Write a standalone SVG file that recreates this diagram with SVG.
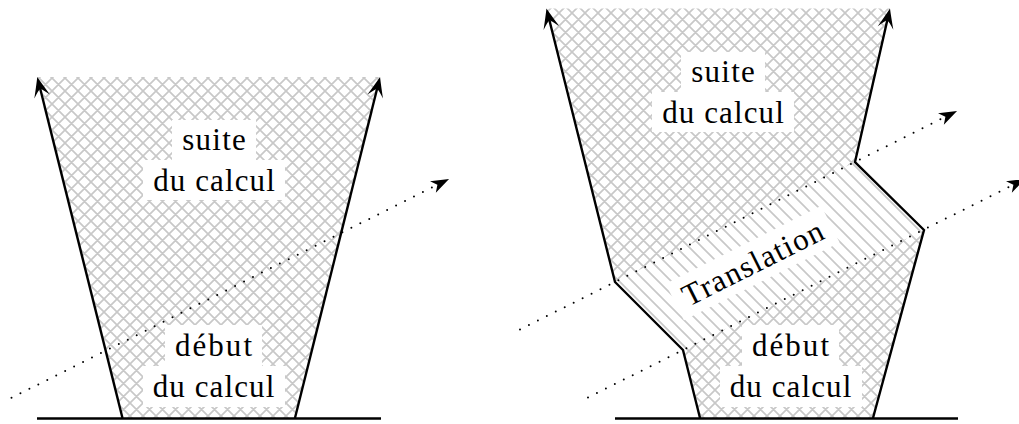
<svg xmlns="http://www.w3.org/2000/svg" width="1019" height="424" viewBox="0 0 1019 424">
<style>
.lbl{font-family:"Liberation Serif","Times New Roman",serif;font-size:31px;fill:#000;text-anchor:middle}
.box{fill:#fff;stroke:none}
.edge{fill:none;stroke:#000;stroke-width:2.4;stroke-linejoin:miter}
.base{fill:none;stroke:#000;stroke-width:2.4}
.dot{fill:none;stroke:#000;stroke-width:2;stroke-linecap:round;stroke-dasharray:0 10}
</style>
<defs>
<pattern id="cross" patternUnits="userSpaceOnUse" width="13" height="13">
<path d="M0,0 L13,13 M-1,12 L1,14 M12,-1 L14,1 M0,13 L13,0 M-1,1 L1,-1 M12,14 L14,12" stroke="#c8c8c8" stroke-width="1.7" fill="none"/>
</pattern>
<pattern id="nw" patternUnits="userSpaceOnUse" width="13" height="13">
<path d="M0,0 L13,13 M-1,12 L1,14 M12,-1 L14,1" stroke="#c8c8c8" stroke-width="1.7" fill="none"/>
</pattern>
<marker id="barb" markerUnits="userSpaceOnUse" orient="auto" overflow="visible" markerWidth="1" markerHeight="1" refX="0" refY="0">
<path d="M8,0 Q0,3 -12,8 Q-5,2 -4,0 Q-5,-2 -12,-8 Q0,-3 8,0 Z" fill="#000"/>
</marker>
<marker id="stealth" markerUnits="userSpaceOnUse" orient="auto" overflow="visible" markerWidth="1" markerHeight="1" refX="0" refY="0">
<path d="M13,0 L-5,-6.5 L0,0 L-5,6.5 Z" fill="#000"/>
</marker>
</defs>

<g id="hatch">
<polygon points="37.3,77 380,77 295,418 122.5,418" fill="url(#cross)"/>
<polygon points="546.5,8.5 890,8.5 855,162 924,230 873,418 700,418 683,350 615,282" fill="url(#cross)"/>
<polygon points="615,282 855,162 924,230 683,350" fill="#fff"/>
<polygon points="615,282 855,162 924,230 683,350" fill="url(#nw)"/>
</g>

<g id="connectors">
<path class="dot" d="M11.5,397.8 L437.4,184.8" marker-end="url(#stealth)"/>
<path class="dot" d="M520,329.5 L945.4,116.8" marker-end="url(#stealth)"/>
<path class="dot" d="M588,397.5 L1013.4,184.8" marker-end="url(#stealth)"/>
<path class="edge" d="M122.5,418 L39.2,84.8" marker-end="url(#barb)"/>
<path class="edge" d="M295,418 L378.1,84.8" marker-end="url(#barb)"/>
<path class="edge" d="M700,418 L683,350 L615,282 L548.4,16.3" marker-end="url(#barb)"/>
<path class="edge" d="M873,418 L924,230 L855,162 L888.2,16.3" marker-end="url(#barb)"/>
<path class="base" d="M37,418.5 L381,418.5"/>
<path class="base" d="M615,418.5 L958,418.5"/>
</g>

<g id="suite-left">
<rect class="box" x="172" y="120" width="84" height="40"/>
<text class="lbl" x="214" y="150" textLength="63.5" lengthAdjust="spacing">suite</text>
</g>
<g id="ducalcul-top-left">
<rect class="box" x="143" y="160" width="142" height="40"/>
<text class="lbl" x="214" y="191" textLength="121.7" lengthAdjust="spacing">du calcul</text>
</g>
<g id="debut-left">
<rect class="box" x="165" y="325" width="97" height="41"/>
<text class="lbl" x="213.5" y="356" textLength="77" lengthAdjust="spacing">début</text>
</g>
<g id="ducalcul-bottom-left">
<rect class="box" x="143" y="366" width="142" height="41"/>
<text class="lbl" x="213.5" y="397" textLength="121.7" lengthAdjust="spacing">du calcul</text>
</g>

<g id="suite-right">
<rect class="box" x="681" y="52" width="84" height="40"/>
<text class="lbl" x="723" y="82" textLength="63.5" lengthAdjust="spacing">suite</text>
</g>
<g id="ducalcul-top-right">
<rect class="box" x="652" y="92" width="142" height="40"/>
<text class="lbl" x="723" y="123" textLength="121.7" lengthAdjust="spacing">du calcul</text>
</g>
<g id="debut-right">
<rect class="box" x="742" y="325" width="97" height="41"/>
<text class="lbl" x="790.5" y="356" textLength="77" lengthAdjust="spacing">début</text>
</g>
<g id="ducalcul-bottom-right">
<rect class="box" x="720" y="366" width="142" height="41"/>
<text class="lbl" x="790.5" y="397" textLength="121.7" lengthAdjust="spacing">du calcul</text>
</g>

<g id="translation" transform="translate(757.3,272.5) rotate(-26.57)">
<rect class="box" x="-87" y="-31" width="174" height="41"/>
<text class="lbl" x="0" y="0" textLength="154" lengthAdjust="spacing">Translation</text>
</g>
</svg>
